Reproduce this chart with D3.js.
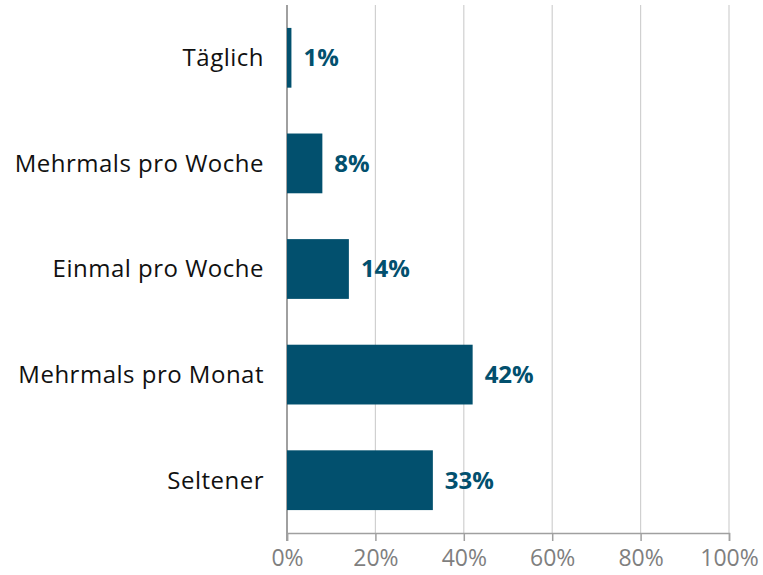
<!DOCTYPE html>
<html>
<head>
<meta charset="utf-8">
<script src="https://cdn.jsdelivr.net/npm/d3@7"></script>
<style>
  body { margin: 0; background: #fff; }
  text { font-family: "Open Sans", "Noto Sans", sans-serif; }
</style>
</head>
<body>
<div id="chart"></div>
<script>
// data
var categories = ["Täglich", "Mehrmals pro Woche", "Einmal pro Woche", "Mehrmals pro Monat", "Seltener"];
var values = [1, 8, 14, 42, 33];
var ticks = [0, 20, 40, 60, 80, 100];

var margin = {top: 5, right: 34, bottom: 42, left: 287},
    width = 763 - margin.left - margin.right,
    height = 575 - margin.top - margin.bottom;

var svg = d3.select("#chart")
  .append("svg")
    .attr("width", 763)
    .attr("height", 575)
  .append("g")
    .attr("transform", "translate(" + margin.left + "," + margin.top + ")");

var x = d3.scaleLinear().domain([0, 100]).range([0, width]);
var y = d3.scaleBand().domain(categories).range([0, height]).paddingInner(0.434).paddingOuter(0.217);

// gridlines
svg.selectAll(".grid")
  .data(ticks.slice(1))
  .enter().append("line")
    .attr("x1", function(d) { return x(d); })
    .attr("x2", function(d) { return x(d); })
    .attr("y1", 0)
    .attr("y2", height)
    .attr("stroke", "#d0d0d0")
    .attr("stroke-width", 1.2);

// x axis
var xAxis = svg.append("g")
  .attr("transform", "translate(0," + height + ")")
  .call(d3.axisBottom(x).tickValues(ticks).tickSize(8).tickFormat(function(d) { return d + "%"; }));
xAxis.select(".domain").attr("stroke", "#a0a0a0").attr("stroke-width", 1.5);
xAxis.selectAll(".tick line").attr("stroke", "#a0a0a0").attr("stroke-width", 1.5);
xAxis.selectAll(".tick text")
  .attr("y", 17)
  .attr("fill", "#7f7f7f")
  .style("font-size", "23px");

// y axis line
svg.append("line")
  .attr("x1", 0).attr("x2", 0)
  .attr("y1", 0).attr("y2", height + 8)
  .attr("stroke", "#a0a0a0")
  .attr("stroke-width", 2);

// category labels
svg.selectAll(".cat")
  .data(categories)
  .enter().append("text")
    .attr("x", -23)
    .attr("y", function(d) { return y(d) + y.bandwidth() / 2; })
    .attr("dy", "0.35em")
    .attr("text-anchor", "end")
    .attr("fill", "#111")
    .style("font-size", "24px")
    .style("letter-spacing", "0.5px")
    .text(function(d) { return d; });

// bars
svg.selectAll(".bar")
  .data(values)
  .enter().append("rect")
    .attr("x", x(0))
    .attr("y", function(d, i) { return y(categories[i]); })
    .attr("width", function(d) { return x(d); })
    .attr("height", y.bandwidth())
    .attr("fill", "#02506e");

// value labels
svg.selectAll(".val")
  .data(values)
  .enter().append("text")
    .attr("x", function(d) { return x(d) + 12; })
    .attr("y", function(d, i) { return y(categories[i]) + y.bandwidth() / 2; })
    .attr("dy", "0.35em")
    .attr("fill", "#02506e")
    .style("font-size", "24px")
    .style("font-weight", "bold")
    .text(function(d) { return d + "%"; });
</script>
</body>
</html>
